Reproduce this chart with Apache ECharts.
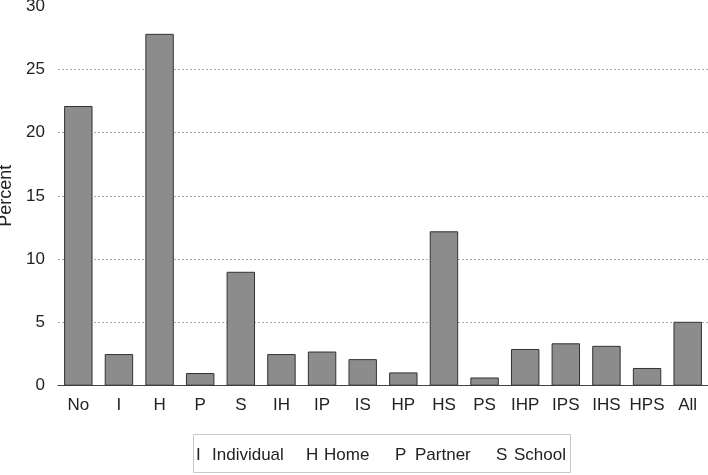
<!DOCTYPE html>
<html>
<head>
<meta charset="utf-8">
<script src="https://cdn.jsdelivr.net/npm/echarts@6/dist/echarts.min.js"></script>
<style>html,body{margin:0;padding:0;background:#fff;}#c{width:708px;height:475px;}</style>
</head>
<body>
<div id="c"></div>
<script>
const categories = ['No','I','H','P','S','IH','IP','IS','HP','HS','PS','IHP','IPS','IHS','HPS','All'];
const percent = [22.1, 2.5, 27.8, 1.0, 9.0, 2.5, 2.7, 2.1, 1.05, 12.2, 0.65, 2.9, 3.35, 3.15, 1.4, 5.05];
const yTicks = [0, 5, 10, 15, 20, 25, 30];
const legendKeys = ['I','H','P','S'];
const legendNames = ['Individual','Home','Partner','School'];

const chart = echarts.init(document.getElementById('c'));
const font = '"Liberation Sans", Arial, sans-serif';
const legendX = [[196,212],[306,324],[395,415],[496,514]];
const graphics = [{
  type:'rect', shape:{x:193.5,y:434.5,width:377,height:38},
  style:{fill:'#fff',stroke:'#c8c8c8',lineWidth:1}
}];
legendKeys.forEach((k,i)=>{
  graphics.push({type:'text', x:legendX[i][0], y:455, style:{text:k, font:'17px '+font, fill:'#222', textVerticalAlign:'middle'}});
  graphics.push({type:'text', x:legendX[i][1], y:455, style:{text:legendNames[i], font:'17px '+font, fill:'#222', textVerticalAlign:'middle'}});
});
chart.setOption({
  animation:false,
  grid:{left:58, right:0, top:6, bottom:89.3, containLabel:false, outerBoundsMode:'none'},
  xAxis:{
    type:'category', data:categories,
    axisLine:{lineStyle:{color:'#444',width:1}},
    axisTick:{show:false},
    axisLabel:{fontFamily:font, fontSize:17, color:'#222', margin:11, interval:0}
  },
  yAxis:{
    type:'value', min:yTicks[0], max:yTicks[yTicks.length-1], interval:5,
    name:'Percent', nameLocation:'middle', nameGap:37,
    nameTextStyle:{fontFamily:font, fontSize:18, color:'#222'},
    axisLine:{show:false}, axisTick:{show:false},
    axisLabel:{fontFamily:font, fontSize:17, color:'#222', margin:13},
    splitLine:{lineStyle:{type:[2,2], color:['#aaa','#aaa','#aaa','#aaa','#aaa','#aaa','rgba(0,0,0,0)'], width:1}}
  },
  series:[{
    type:'bar', data:percent, barWidth:'70%',
    itemStyle:{color:'#8c8c8c', borderColor:'#333', borderWidth:1}
  }],
  graphic:graphics
});
</script>
</body>
</html>
